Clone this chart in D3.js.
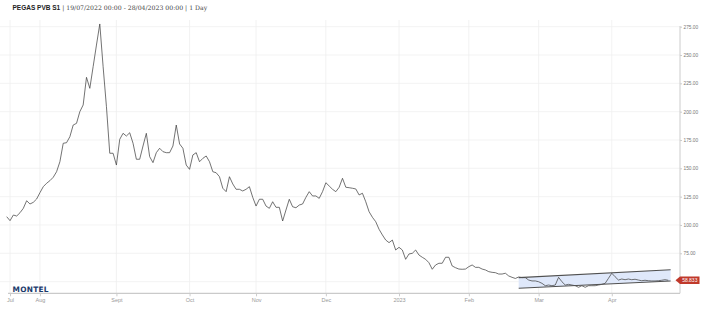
<!DOCTYPE html>
<html lang="en">
<head>
<meta charset="UTF-8">
<title>PEGAS PVB S1</title>
<script src="https://cdn.jsdelivr.net/npm/d3@7"></script>
<style>
  body { margin: 0; background: #fff; }
  svg { display: block; }
</style>
</head>
<body>
<script>
// daily settlement values (EUR/MWh), 19/07/2022 - 28/04/2023
const values = [
  107.3, 103.8, 108.8, 107.9, 110.8, 114.7, 121.4, 118.5, 120.0, 122.9,
  128.5, 133.8, 136.8, 139.1, 142.1, 147.0, 155.8, 172.1, 172.6, 177.9,
  188.2, 189.7, 200.0, 205.9, 230.3, 220.6, 239.7, 258.8, 277.4, 239.7,
  204.4, 163.3, 163.3, 152.9, 175.6, 180.9, 178.5, 181.4, 172.1, 158.0,
  158.0, 169.7, 180.9, 160.3, 155.0, 163.8, 167.7, 164.7, 163.8, 163.8,
  169.7, 188.2, 171.5, 167.7, 152.9, 149.1, 161.8, 163.8, 155.8, 158.8,
  160.9, 155.8, 147.0, 146.1, 142.6, 132.4, 129.4, 142.6, 136.2, 131.5,
  131.5, 130.0, 131.5, 133.8, 124.4, 116.7, 122.7, 122.7, 116.7, 114.7,
  120.5, 115.6, 115.6, 103.5, 113.2, 122.7, 116.1, 115.2, 117.6, 118.5,
  124.4, 129.4, 125.6, 125.6, 123.5, 129.4, 137.3, 134.4, 131.5, 129.4,
  133.3, 141.2, 133.3, 132.9, 132.4, 131.8, 126.5, 128.0, 120.5, 111.7,
  106.8, 102.9, 96.2, 91.2, 86.7, 84.4, 86.7, 77.9, 80.3, 77.9,
  69.7, 74.4, 75.0, 77.9, 73.5, 71.5, 69.7, 66.7, 60.9, 64.7,
  66.2, 66.2, 71.5, 71.5, 63.8, 62.3, 61.1, 60.9, 61.1, 63.2,
  64.7, 62.6, 62.6, 61.1, 60.3, 58.8, 58.2, 57.9, 56.7, 56.7,
  57.4, 55.0, 53.8, 52.8, 54.1, 53.5, 53.5, 51.4, 50.6, 50.6,
  49.9, 48.5, 46.4, 47.0, 46.4, 47.0, 53.8, 49.9, 47.0, 47.6,
  47.0, 46.4, 45.0, 46.4, 45.0, 46.4, 46.4, 46.4, 47.0, 47.6,
  48.5, 52.9, 57.4, 54.3, 51.4, 52.3, 51.7, 52.3, 51.7, 52.1,
  51.4, 50.8, 51.2, 50.8, 50.6, 50.6, 50.8, 51.2, 51.7, 51.2
];

// first session of each month (index into values)
const monthLabels = ["Jul", "Aug", "Sept", "Oct", "Nov", "Dec", "2023", "Feb", "Mar", "Apr"];
const monthIdx = [1, 10, 33, 55, 75, 96, 118, 139, 160, 182];

// 50 has a grid line but its label sits under the last-price flag
const yTicks = [50, 75, 100, 125, 150, 175, 200, 225, 250, 275];
const yLabelled = [75, 100, 125, 150, 175, 200, 225, 250, 275];

// drawn trend channel
const channelIdx = [154, 199.7];
const channelUpper = [53.5, 60.5];
const channelLower = [44.1, 50.6];

const lastLabel = "58.833";

const width = 707, height = 319;
const plotLeft = 6.7, plotRight = 680, plotTop = 20, plotBottom = 293.3;

const svg = d3.select("body").append("svg")
  .attr("width", width)
  .attr("height", height)
  .style("background", "#fff");

const x = d3.scaleLinear().domain([0, values.length - 1]).range([plotLeft, 668.3]);
const y = d3.scaleLinear().domain([39.7, 280.9]).range([plotBottom, plotTop]);

// grid
svg.append("g").selectAll("line").data(yTicks).join("line")
  .attr("x1", 0).attr("x2", plotRight)
  .attr("y1", d => y(d)).attr("y2", d => y(d))
  .attr("stroke", "#f0f0f0").attr("stroke-width", 0.8);

svg.append("g").selectAll("line").data(monthIdx).join("line")
  .attr("x1", d => x(d)).attr("x2", d => x(d))
  .attr("y1", plotTop).attr("y2", plotBottom)
  .attr("stroke", "#efefef").attr("stroke-width", 0.8);

// x axis
const xAxis = d3.axisBottom(x)
  .tickValues(monthIdx)
  .tickFormat((d, i) => monthLabels[i])
  .tickSize(3)
  .tickPadding(2);

const gx = svg.append("g")
  .attr("transform", `translate(0,${plotBottom})`)
  .call(xAxis);
gx.select(".domain").attr("d", `M8,0H${plotRight}`).attr("stroke", "#bdbdbd");
gx.selectAll(".tick line").attr("stroke", "#ccc");
gx.selectAll("text")
  .attr("font-family", "Liberation Sans, Arial, sans-serif")
  .attr("font-size", 5.5)
  .attr("fill", "#999");

// y axis on the right
const yAxis = d3.axisRight(y)
  .tickValues(yLabelled)
  .tickFormat(d3.format(".2f"))
  .tickSize(2)
  .tickPadding(1.5);

const gy = svg.append("g")
  .attr("transform", `translate(${plotRight},0)`)
  .call(yAxis);
gy.select(".domain").attr("d", `M0,26H0V${plotBottom}`).attr("stroke", "#ccc");
gy.selectAll(".tick line").attr("stroke", "#ccc");
gy.selectAll("text")
  .attr("font-family", "Liberation Sans, Arial, sans-serif")
  .attr("font-size", 4.8)
  .attr("fill", "#777");

// channel
const chan = channelIdx.map((d, i) => ({ i: d, hi: channelUpper[i], lo: channelLower[i] }));
svg.append("path")
  .datum(chan)
  .attr("d", d3.area().x(d => x(d.i)).y0(d => y(d.lo)).y1(d => y(d.hi)))
  .attr("fill", "#dfe8fa");

// price line
svg.append("path")
  .datum(values)
  .attr("d", d3.line().x((d, i) => x(i)).y(d => y(d)))
  .attr("fill", "none")
  .attr("stroke", "#444")
  .attr("stroke-width", 0.75)
  .attr("stroke-linejoin", "round");

svg.append("path")
  .datum(chan)
  .attr("d", d3.line().x(d => x(d.i)).y(d => y(d.hi)))
  .attr("fill", "none").attr("stroke", "#505050").attr("stroke-width", 1.1);
svg.append("path")
  .datum(chan)
  .attr("d", d3.line().x(d => x(d.i)).y(d => y(d.lo)))
  .attr("fill", "none").attr("stroke", "#505050").attr("stroke-width", 1.1);

// last value label
const ly = y(values[values.length - 1]);
const lab = svg.append("g").attr("transform", `translate(${plotRight},${ly})`);
lab.append("path")
  .attr("d", "M-4.5,0L0,-3.7H19.5V3.7H0Z")
  .attr("fill", "#c0392b");
lab.append("text")
  .attr("x", 9.8).attr("y", 1.8)
  .attr("text-anchor", "middle")
  .attr("font-family", "Liberation Sans, Arial, sans-serif")
  .attr("font-size", 5)
  .attr("fill", "#fff")
  .text(lastLabel);

// title
const title = svg.append("text")
  .attr("x", 12.5).attr("y", 9.5)
  .attr("font-size", 6.5)
  .attr("fill", "#222");
title.append("tspan")
  .attr("font-family", "Liberation Sans, Arial, sans-serif")
  .attr("font-weight", "bold")
  .text("PEGAS PVB S1");
title.append("tspan")
  .attr("font-family", "DejaVu Serif, Georgia, serif")
  .attr("font-size", 6.2)
  .attr("fill", "#444")
  .text(" | 19/07/2022 00:00 - 28/04/2023 00:00 | 1 Day");

// logo
svg.append("text")
  .attr("x", 12.5).attr("y", 291.6)
  .attr("font-family", "DejaVu Sans, sans-serif")
  .attr("font-weight", "bold")
  .attr("font-size", 7.4)
  .attr("textLength", 36)
  .attr("lengthAdjust", "spacing")
  .attr("fill", "#1b3a6b")
  .text("MONTEL");
</script>
</body>
</html>
